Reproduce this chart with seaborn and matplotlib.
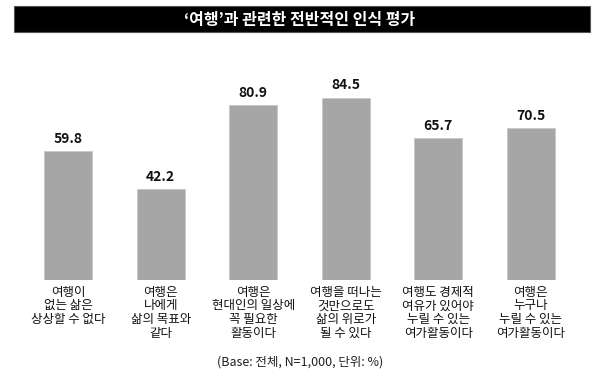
import matplotlib
matplotlib.use("Agg")
import matplotlib.pyplot as plt
import seaborn as sns
import pandas as pd
from matplotlib.patches import Rectangle

sns.set_theme(style="white")
plt.rcParams['font.family'] = ['Noto Sans CJK KR', 'DejaVu Sans']

categories = [
    "여행이\n없는 삶은\n상상할 수 없다",
    "여행은\n나에게\n삶의 목표와\n같다",
    "여행은\n현대인의 일상에\n꼭 필요한\n활동이다",
    "여행을 떠나는\n것만으로도\n삶의 위로가\n될 수 있다",
    "여행도 경제적\n여유가 있어야\n누릴 수 있는\n여가활동이다",
    "여행은\n누구나\n누릴 수 있는\n여가활동이다",
]
values = [59.8, 42.2, 80.9, 84.5, 65.7, 70.5]
title = "‘여행’과 관련한 전반적인 인식 평가"
note = "(Base: 전체, N=1,000, 단위: %)"

df = pd.DataFrame({"cat": categories, "val": values})

fig = plt.figure(figsize=(6, 3.84), dpi=100)
ax = fig.add_axes([22/600, 1-280/384, 555/600, (280-64.3)/384])
sns.barplot(data=df, x="cat", y="val", ax=ax, color="#a6a6a6",
            saturation=1, width=0.52, edgecolor="#c8c8c8", linewidth=0.6)
ax.set_ylim(0, 100)
ax.set_xlim(-0.5, 5.5)
ax.set_xlabel("")
ax.set_ylabel("")
ax.set_yticks([])
for s in ax.spines.values():
    s.set_visible(False)
ax.tick_params(axis="x", length=0, pad=4)
ax.set_xticks(range(len(categories)))
ax.set_xticklabels(categories, fontsize=9, linespacing=1.08, va="top",
                   color="#111111")

for i, v in enumerate(values):
    ax.text(i, v + 2.5, f"{v:.1f}", ha="center", va="bottom",
            fontsize=10, fontweight="bold", color="#111111")

# title bar
fig.patches.append(Rectangle((13.5/600, 1-32/384), 576/600, 26/384,
                             transform=fig.transFigure, facecolor="black",
                             edgecolor="#555555", linewidth=0.8))
fig.text(300/600, 1-19.5/384, title, ha="center", va="center",
         color="white", fontsize=11.5, fontweight="bold")

fig.text(300/600, 1-362/384, note, ha="center", va="center",
         fontsize=9, color="#222222")

fig.savefig("out.png", dpi=100)
